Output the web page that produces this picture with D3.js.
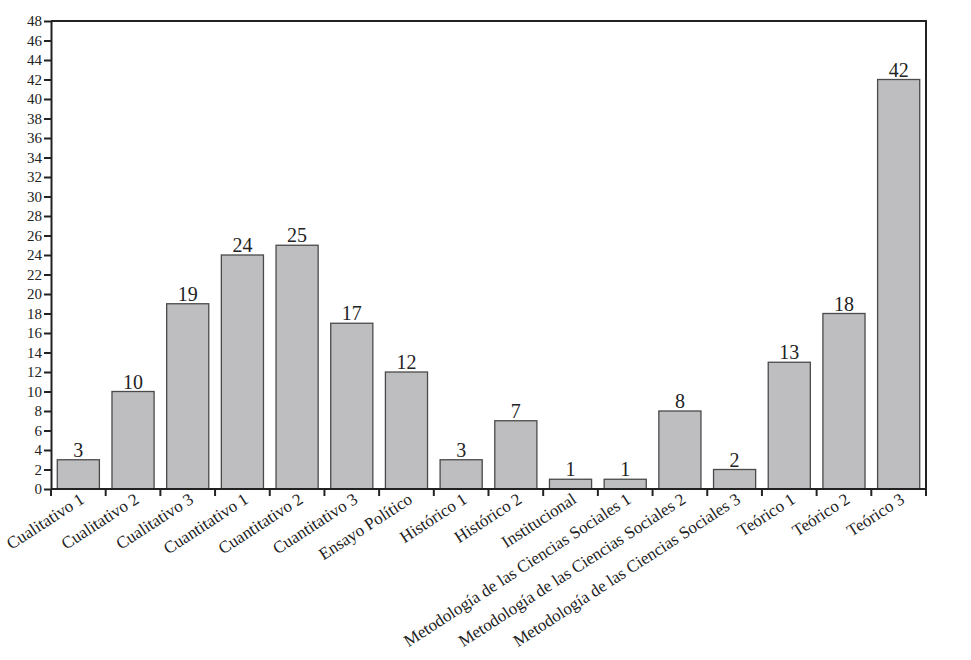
<!DOCTYPE html>
<html lang="en">
<head>
  <meta charset="UTF-8">
  <title>Bar chart</title>
  <style>
    body { margin: 0; background: #fff; }
    svg { display: block; }
    text { font-family: "Liberation Serif", "DejaVu Serif", serif; fill: #222; }
    .bar { fill: #bebec1; stroke: #4a4a4a; stroke-width: 1.3; }
    .axis path, .axis line { stroke: #222; stroke-width: 2; }
  </style>
  <script src="https://d3js.org/d3.v7.min.js"></script>
</head>
<body>
  <svg></svg>
  <script>
    const categories = [
      "Cualitativo 1", "Cualitativo 2", "Cualitativo 3",
      "Cuantitativo 1", "Cuantitativo 2", "Cuantitativo 3",
      "Ensayo Político", "Histórico 1", "Histórico 2", "Institucional",
      "Metodología de las Ciencias Sociales 1",
      "Metodología de las Ciencias Sociales 2",
      "Metodología de las Ciencias Sociales 3",
      "Teórico 1", "Teórico 2", "Teórico 3"
    ];
    const values = [3, 10, 19, 24, 25, 17, 12, 3, 7, 1, 1, 8, 2, 13, 18, 42];
    const yTicks = d3.range(0, 49, 2);

    const width = 971, height = 660;
    const mLeft = 51, mRight = 926, mTop = 21, mBottom = 489;

    const svg = d3.select("svg").attr("width", width).attr("height", height);

    const x = d3.scaleBand().domain(categories).range([mLeft, mRight])
      .paddingInner(0.23).paddingOuter(0.115);
    const y = d3.scaleLinear().domain([0, 48]).range([mBottom, mTop]);

    // frame top and right
    svg.append("path")
      .attr("d", `M${mLeft},${mTop}H${mRight}V${mBottom}`)
      .attr("fill", "none").attr("stroke", "#222").attr("stroke-width", 2);

    svg.append("g")
      .selectAll("rect")
      .data(values)
      .join("rect")
      .attr("class", "bar")
      .attr("x", (d, i) => x(categories[i]))
      .attr("width", x.bandwidth())
      .attr("y", d => y(d))
      .attr("height", d => mBottom - y(d));

    svg.append("g")
      .selectAll("text")
      .data(values)
      .join("text")
      .attr("x", (d, i) => x(categories[i]) + x.bandwidth() / 2)
      .attr("y", d => y(d) - 3)
      .attr("text-anchor", "middle")
      .attr("font-size", 20)
      .text(d => d);

    // y axis
    const yAxis = svg.append("g")
      .attr("class", "axis")
      .attr("transform", `translate(${mLeft},0)`)
      .call(d3.axisLeft(y).tickValues(yTicks).tickSize(7).tickSizeOuter(0));
    yAxis.selectAll("text").attr("font-size", 15).attr("x", -9).style("font-family", "Liberation Serif");

    // x axis, ticks at band boundaries
    const xAxis = svg.append("g").attr("class", "axis");
    xAxis.append("line")
      .attr("x1", mLeft).attr("x2", mRight)
      .attr("y1", mBottom).attr("y2", mBottom);
    const step = x.step();
    const x0 = x(categories[0]) - step * x.paddingInner() / 2;
    xAxis.selectAll("line.tick")
      .data(d3.range(categories.length + 1))
      .join("line")
      .attr("class", "tick")
      .attr("x1", i => x0 + i * step).attr("x2", i => x0 + i * step)
      .attr("y1", mBottom).attr("y2", mBottom + 7);

    xAxis.selectAll("text")
      .data(categories)
      .join("text")
      .attr("transform", d => `translate(${x(d) + x.bandwidth() / 2 + 7},${mBottom + 13}) rotate(-33)`)
      .attr("text-anchor", "end")
      .attr("font-size", 17)
      .text(d => d);
  </script>
</body>
</html>
